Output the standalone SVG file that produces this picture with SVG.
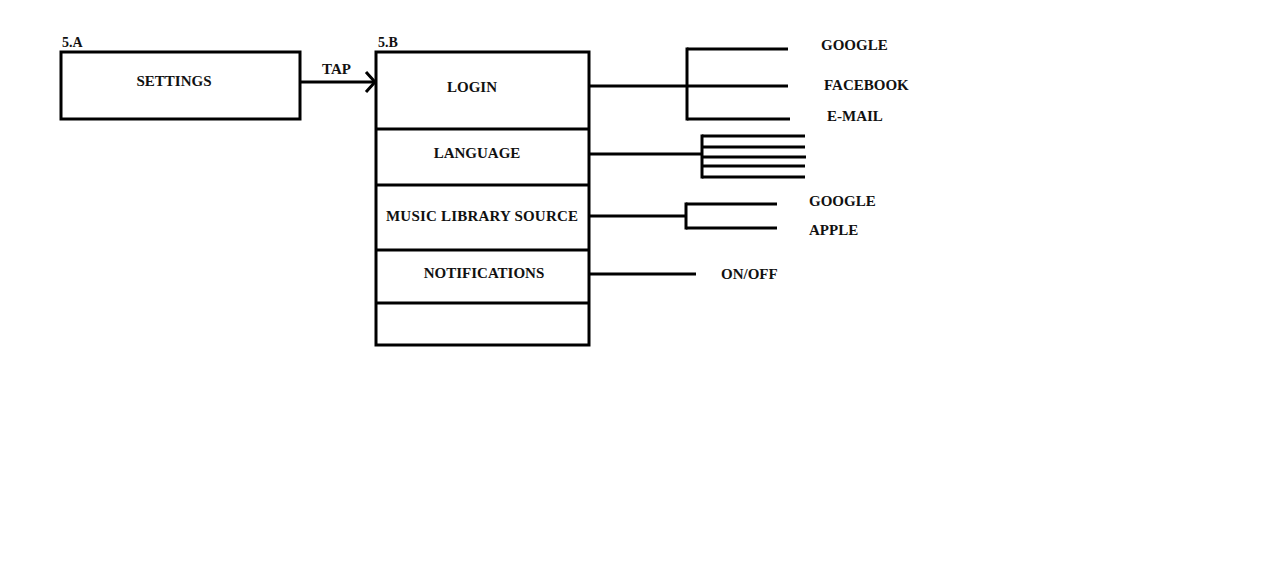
<svg xmlns="http://www.w3.org/2000/svg" width="1280" height="582" viewBox="0 0 1280 582">
<style>
.b{fill:none;stroke:#000;stroke-width:3}
.l{fill:none;stroke:#000;stroke-width:3;stroke-linecap:butt}
text{font-family:"Liberation Serif","Times New Roman",serif;font-weight:bold;font-size:15px;fill:#111}
.c{text-anchor:middle}
.s{font-size:14px}
</style>
<rect width="1280" height="582" fill="#fff"/>
<g id="settings">
<text class="s" x="62" y="47">5.A</text>
<rect class="b" x="61" y="52" width="239" height="67"/>
<text class="c" x="174" y="86">SETTINGS</text>
</g>
<g id="menu">
<text class="s" x="378" y="47">5.B</text>
<rect class="b" x="376" y="52" width="213" height="293"/>
<line class="l" x1="376" y1="129" x2="589" y2="129"/>
<line class="l" x1="376" y1="185" x2="589" y2="185"/>
<line class="l" x1="376" y1="250" x2="589" y2="250"/>
<line class="l" x1="376" y1="303" x2="589" y2="303"/>
<text class="c" x="472" y="92">LOGIN</text>
<text class="c" x="477" y="158">LANGUAGE</text>
<text class="c" x="482" y="221" textLength="192">MUSIC LIBRARY SOURCE</text>
<text class="c" x="484" y="278">NOTIFICATIONS</text>
</g>
<g id="login-options">
<text x="821" y="50">GOOGLE</text>
<text x="824" y="90">FACEBOOK</text>
<text x="827" y="121">E-MAIL</text>
</g>
<g id="music-options">
<text x="809" y="206">GOOGLE</text>
<text x="809" y="235">APPLE</text>
</g>
<g id="notification-options">
<text x="721" y="279">ON/OFF</text>
</g>
<g id="connectors">
<line class="l" x1="300" y1="82" x2="374" y2="82"/>
<polyline class="l" points="366,72 375,82 366,92"/>
<text x="322" y="74">TAP</text>
<line class="l" x1="589" y1="86" x2="687" y2="86"/>
<line class="l" x1="687" y1="47.5" x2="687" y2="120.5"/>
<line class="l" x1="687" y1="49" x2="788" y2="49"/>
<line class="l" x1="687" y1="86" x2="788" y2="86"/>
<line class="l" x1="687" y1="119" x2="790" y2="119"/>
<line class="l" x1="589" y1="154" x2="702" y2="154"/>
<line class="l" x1="702" y1="134.5" x2="702" y2="178.5"/>
<line class="l" x1="702" y1="136" x2="805" y2="136"/>
<line class="l" x1="702" y1="147" x2="805" y2="147"/>
<line class="l" x1="702" y1="157" x2="806" y2="157"/>
<line class="l" x1="702" y1="166" x2="805" y2="166"/>
<line class="l" x1="702" y1="177" x2="805" y2="177"/>
<line class="l" x1="589" y1="216" x2="686" y2="216"/>
<line class="l" x1="686" y1="202.5" x2="686" y2="229.5"/>
<line class="l" x1="686" y1="204" x2="777" y2="204"/>
<line class="l" x1="686" y1="228" x2="777" y2="228"/>
<line class="l" x1="589" y1="274" x2="696" y2="274"/>
</g>
</svg>
